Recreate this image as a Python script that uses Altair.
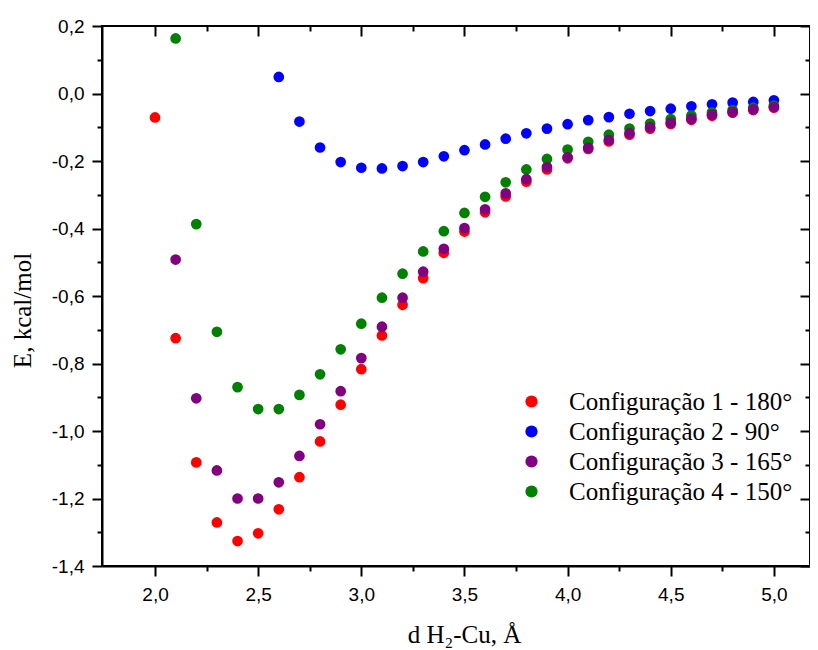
import altair as alt
import pandas as pd

series = ["Configuração 1 - 180°", "Configuração 2 - 90°",
          "Configuração 3 - 165°", "Configuração 4 - 150°"]
colors = ["#ff0000", "#0000ff", "#800080", "#008000"]

d1 = [2.0, 2.1, 2.2, 2.3, 2.4, 2.5, 2.6, 2.7, 2.8, 2.9, 3.0, 3.1, 3.2, 3.3, 3.4, 3.5,
      3.6, 3.7, 3.8, 3.9, 4.0, 4.1, 4.2, 4.3, 4.4, 4.5, 4.6, 4.7, 4.8, 4.9, 5.0]
e1 = [-0.071, -0.725, -1.093, -1.271, -1.326, -1.303, -1.232, -1.137, -1.031, -0.922,
      -0.817, -0.717, -0.626, -0.547, -0.472, -0.409, -0.352, -0.305, -0.261, -0.225,
      -0.192, -0.164, -0.142, -0.122, -0.104, -0.090, -0.078, -0.066, -0.057, -0.049, -0.042]

d2 = [2.6, 2.7, 2.8, 2.9, 3.0, 3.1, 3.2, 3.3, 3.4, 3.5, 3.6, 3.7, 3.8, 3.9, 4.0, 4.1,
      4.2, 4.3, 4.4, 4.5, 4.6, 4.7, 4.8, 4.9, 5.0]
e2 = [0.049, -0.083, -0.160, -0.203, -0.220, -0.222, -0.215, -0.203, -0.186, -0.168,
      -0.151, -0.134, -0.118, -0.104, -0.091, -0.079, -0.070, -0.060, -0.052, -0.045,
      -0.038, -0.032, -0.027, -0.025, -0.020]

d3 = [2.1, 2.2, 2.3, 2.4, 2.5, 2.6, 2.7, 2.8, 2.9, 3.0, 3.1, 3.2, 3.3, 3.4, 3.5,
      3.6, 3.7, 3.8, 3.9, 4.0, 4.1, 4.2, 4.3, 4.4, 4.5, 4.6, 4.7, 4.8, 4.9, 5.0]
e3 = [-0.492, -0.903, -1.117, -1.200, -1.200, -1.152, -1.074, -0.980, -0.882, -0.784,
      -0.691, -0.605, -0.528, -0.460, -0.399, -0.343, -0.296, -0.254, -0.218, -0.189,
      -0.161, -0.138, -0.118, -0.100, -0.087, -0.075, -0.063, -0.055, -0.047, -0.040]

d4 = [2.1, 2.2, 2.3, 2.4, 2.5, 2.6, 2.7, 2.8, 2.9, 3.0, 3.1, 3.2, 3.3, 3.4, 3.5,
      3.6, 3.7, 3.8, 3.9, 4.0, 4.1, 4.2, 4.3, 4.4, 4.5, 4.6, 4.7, 4.8, 4.9, 5.0]
e4 = [0.163, -0.387, -0.706, -0.870, -0.935, -0.935, -0.893, -0.832, -0.758, -0.682,
      -0.605, -0.534, -0.468, -0.408, -0.354, -0.306, -0.263, -0.225, -0.194, -0.166,
      -0.143, -0.122, -0.104, -0.089, -0.076, -0.065, -0.056, -0.049, -0.042, -0.036]

x_major = [2.0, 2.5, 3.0, 3.5, 4.0, 4.5, 5.0]
x_minor = [2.25, 2.75, 3.25, 3.75, 4.25, 4.75]
y_major = [-1.4, -1.2, -1.0, -0.8, -0.6, -0.4, -0.2, 0.0, 0.2]
y_minor = [-1.3, -1.1, -0.9, -0.7, -0.5, -0.3, -0.1, 0.1]

# drawing order: red, blue, green, purple (purple sits on top of green)
rows = []
for name, ds, es, z in [(series[0], d1, e1, 0), (series[1], d2, e2, 1),
                        (series[3], d4, e4, 2), (series[2], d3, e3, 3)]:
    for d, e in zip(ds, es):
        rows.append({"d": d, "E": e, "cfg": name, "z": z})
df = pd.DataFrame(rows)

xscale = alt.Scale(domain=[1.743, 5.175], nice=False, zero=False)
yscale = alt.Scale(domain=[-1.4, 0.2], nice=False, zero=False)

label_expr = "replace(replace(format(datum.value, '.1f'), '.', ','), '\u2212', '-')"

tick_common = dict(grid=False, tickColor="black", tickWidth=2, domainColor="black",
                   domainWidth=2)

x_main = alt.Axis(orient="bottom", values=x_major, labelExpr=label_expr, tickSize=10,
                  labelFont="Liberation Sans", labelFontSize=19, labelColor="black",
                  labelPadding=9, title="d H₂-Cu, Å", titleFont="Liberation Serif",
                  titleFontSize=25, titleFontWeight="normal", titleColor="black",
                  titleX=362, titleY=76, titleBaseline="alphabetic", titleAlign="center",
                  **tick_common)
y_main = alt.Axis(orient="left", values=y_major, labelExpr=label_expr, tickSize=10,
                  labelFont="Liberation Sans", labelFontSize=19, labelColor="black",
                  labelPadding=8, title="E, kcal/mol", titleFont="Liberation Serif",
                  titleFontSize=25, titleFontWeight="normal", titleColor="black",
                  titleX=-80, titleY=284, titleAngle=270, titleBaseline="middle",
                  titleAlign="center", **tick_common)

points = alt.Chart(df).mark_circle(size=115, opacity=1).encode(
    x=alt.X("d:Q", scale=xscale, axis=x_main),
    y=alt.Y("E:Q", scale=yscale, axis=y_main),
    color=alt.Color("cfg:N", scale=alt.Scale(domain=series, range=colors),
                    legend=alt.Legend(title=None, orient="none", legendX=417, legendY=363,
                                      symbolType="circle", symbolSize=150,
                                      symbolStrokeWidth=0, symbolOpacity=1,
                                      labelFont="Liberation Serif", labelFontSize=25,
                                      labelColor="black", labelOffset=25, labelLimit=400,
                                      rowPadding=4, padding=0)),
    order=alt.Order("z:Q"),
)


def axis_layer(xaxis, yaxis):
    return alt.Chart(df).mark_circle(size=1, opacity=0).encode(
        x=alt.X("d:Q", scale=xscale, axis=xaxis),
        y=alt.Y("E:Q", scale=yscale, axis=yaxis),
    )


def bare(orient, values, size, offset=0):
    return alt.Axis(orient=orient, values=values, tickSize=size, offset=offset,
                    labels=False, domain=False, title=None, grid=False,
                    tickColor="black", tickWidth=2)


minor_out = axis_layer(bare("bottom", x_minor, 5), bare("left", y_minor, 5))
major_in = axis_layer(bare("top", x_major, 10, -10), bare("right", y_major, 10, -10))
minor_in = axis_layer(bare("top", x_minor, 5, -5), bare("right", y_minor, 5, -5))

chart = alt.layer(points, minor_out, major_in, minor_in).resolve_axis(
    x="independent", y="independent"
).properties(
    width=708, height=540,
    autosize=alt.AutoSizeParams(type="none"),
    padding={"left": 94, "top": 18, "right": 0, "bottom": 84},
    background="white",
).configure_view(stroke="black", strokeWidth=2)

chart.save("out.html", embed_options={"renderer": "svg", "actions": False})
